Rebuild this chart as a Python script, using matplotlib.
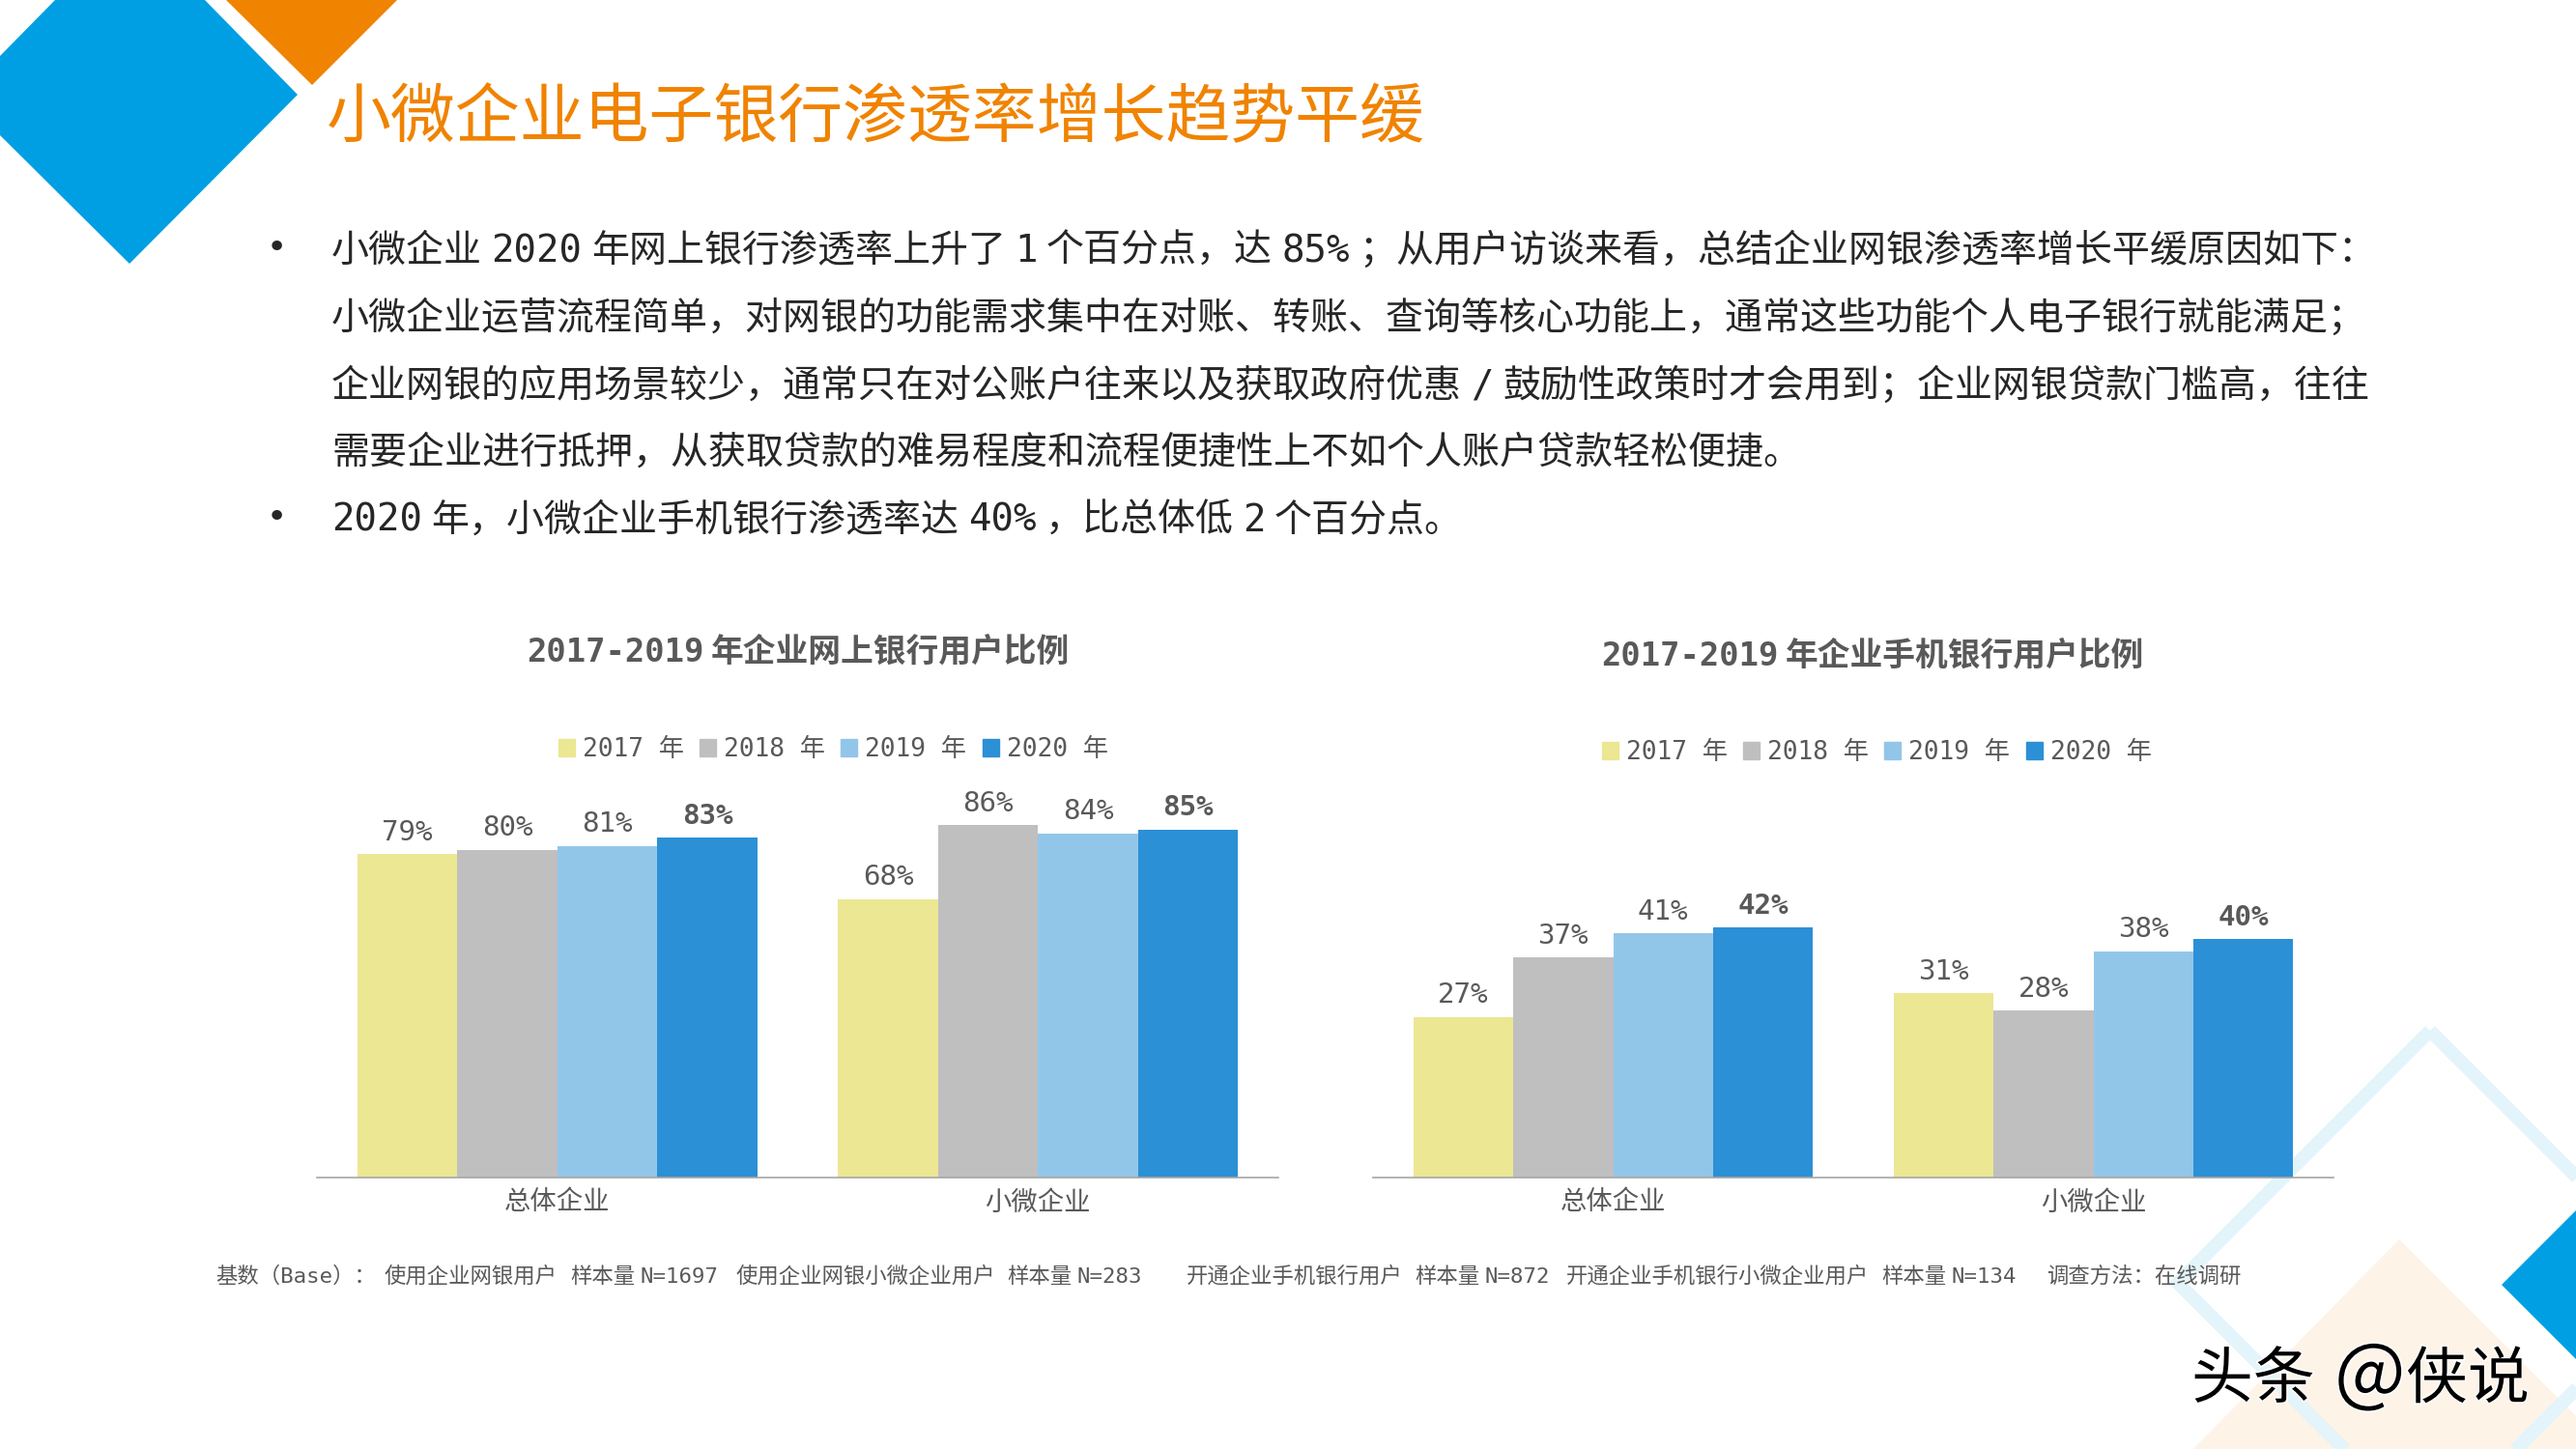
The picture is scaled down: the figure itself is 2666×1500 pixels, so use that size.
"""
Slide: SME e-banking penetration, two grouped bar charts on a decorated page.
"""
import matplotlib
matplotlib.use("Agg")
import matplotlib.pyplot as plt
import matplotlib.patheffects as pe
from matplotlib.patches import Patch, Polygon
import numpy as np

W, H = 2666, 1500
MONO_CJK = ["DejaVu Sans Mono", "Noto Sans CJK SC"]
TEXT_GREY = "#595959"

years = ["2017 年", "2018 年", "2019 年", "2020 年"]
groups = ["总体企业", "小微企业"]
colors = ["#EBE792", "#BFBFBF", "#92C6E9", "#2B90D6"]

online_2017 = [79, 68]
online_2018 = [80, 86]
online_2019 = [81, 84]
online_2020 = [83, 85]

mobile_2017 = [27, 31]
mobile_2018 = [37, 28]
mobile_2019 = [41, 38]
mobile_2020 = [42, 40]

title = "小微企业电子银行渗透率增长趋势平缓"
body_lines = [
    "小微企业 2020 年网上银行渗透率上升了 1 个百分点，达 85% ；从用户访谈来看，总结企业网银渗透率增长平缓原因如下：",
    "小微企业运营流程简单，对网银的功能需求集中在对账、转账、查询等核心功能上，通常这些功能个人电子银行就能满足；",
    "企业网银的应用场景较少，通常只在对公账户往来以及获取政府优惠 / 鼓励性政策时才会用到；企业网银贷款门槛高，往往",
    "需要企业进行抵押，从获取贷款的难易程度和流程便捷性上不如个人账户贷款轻松便捷。",
    "2020 年，小微企业手机银行渗透率达 40% ，比总体低 2 个百分点。",
]
footer_parts = [
    (223, "基数（Base）："),
    (398, "使用企业网银用户"),
    (590, "样本量 N=1697"),
    (762, "使用企业网银小微企业用户"),
    (1042, "样本量 N=283"),
    (1228, "开通企业手机银行用户"),
    (1464, "样本量 N=872"),
    (1621, "开通企业手机银行小微企业用户"),
    (1947, "样本量 N=134"),
    (2118, "调查方法：在线调研"),
]

fig = plt.figure(figsize=(W / 100, H / 100), dpi=100, facecolor="white")

# full page layer in pixel coordinates
page = fig.add_axes([0, 0, 1, 1], zorder=0)
page.set_xlim(0, W)
page.set_ylim(H, 0)
page.axis("off")


def draw_runs(x, y, text, size, color, weight="normal", gap=0.24, center=False):
    # spaces are narrower than the mono font's, so lay the words out one by one
    renderer = fig.canvas.get_renderer()
    artists = []
    cur = x
    for word in text.split(" "):
        t = page.text(cur, y, word, fontsize=size, color=color, weight=weight,
                      family=MONO_CJK, va="baseline", ha="left")
        cur = t.get_window_extent(renderer).x1 + gap * size * 100 / 72
        artists.append(t)
    if center:
        shift = (cur - gap * size * 100 / 72 - x) / 2
        for t in artists:
            px, py = t.get_position()
            t.set_position((px - shift, py))


# decorations
page.add_patch(Polygon([(2483, 1283), (2700, 1500), (2270, 1500)], closed=True, fc="#FDF3E7", ec="none"))
page.add_patch(Polygon([(2515, 1067), (2776, 1328), (2515, 1589), (2254, 1328)], closed=True,
                       fc="none", ec="#E3F4FB", lw=10, joinstyle="miter"))
page.add_patch(Polygon([(57, 0), (212, 0), (308, 98), (134, 273), (0, 140), (0, 58)], closed=True, fc="#009FE3", ec="none"))
page.add_patch(Polygon([(234, 0), (411, 0), (323, 88)], closed=True, fc="#F08300", ec="none"))
page.add_patch(Polygon([(2589, 1330), (2666, 1253), (2666, 1407)], closed=True, fc="#009FE3", ec="none"))

# headline and body
page.text(338, 142, title, fontsize=48.2, color="#F08300", family="Noto Sans CJK SC", va="baseline")
body_baselines = [271, 341, 411, 480, 550]
for line, base in zip(body_lines, body_baselines):
    draw_runs(343, base, line, 28.05, "#262626")
for base in [body_baselines[0], body_baselines[4]]:
    page.text(286, base - 14, "•", fontsize=26, color="#262626", ha="center", va="center", family="DejaVu Sans")

# chart titles
draw_runs(826, 685, "2017-2019 年企业网上银行用户比例", 24.3, TEXT_GREY, weight="bold", center=True)
draw_runs(1938, 689, "2017-2019 年企业手机银行用户比例", 24.3, TEXT_GREY, weight="bold", center=True)

# footer
for fx, part in footer_parts:
    draw_runs(fx, 1328, part, 16.1, TEXT_GREY)

# watermark
halo = [pe.withStroke(linewidth=2.5, foreground="white")]
for wx, part, size in [(2268, "头条", 46), (2416, "@", 56), (2490, "侠说", 46)]:
    page.text(wx, 1447, part, fontsize=size, color="black", family="Noto Sans CJK SC",
              va="baseline", path_effects=halo)


def bar_chart(left, right, base, top, ymax, series, legend_x, legend_y):
    ax = fig.add_axes([left / W, 1 - base / H, (right - left) / W, (base - top) / H], zorder=1)
    ax.patch.set_alpha(0)
    x = np.arange(len(groups))
    width = 0.208
    for i, values in enumerate(series):
        bars = ax.bar(x + (i - 1.5) * width, values, width, color=colors[i], label=years[i])
        labels = [f"{v}%" for v in values]
        ax.bar_label(bars, labels=labels, padding=6, fontsize=21, color=TEXT_GREY, family=MONO_CJK,
                     weight="bold" if i == 3 else "normal")
    ax.set_xlim(-0.5, 1.5)
    ax.set_ylim(0, ymax)
    ax.set_yticks([])
    ax.set_xticks(x)
    ax.set_xticklabels(groups, fontsize=19.7, color=TEXT_GREY, family="Noto Sans CJK SC")
    ax.tick_params(axis="x", length=0, pad=9)
    for side in ["top", "left", "right"]:
        ax.spines[side].set_visible(False)
    ax.spines["bottom"].set_color("#A6A6A6")
    ax.spines["bottom"].set_linewidth(1.2)
    handles = [Patch(color=c, label=y) for c, y in zip(colors, years)]
    ax.legend(handles=handles, ncol=4, frameon=False, loc="center left",
              bbox_to_anchor=(legend_x / W, 1 - legend_y / H), bbox_transform=fig.transFigure,
              prop={"family": MONO_CJK, "size": 18.9}, labelcolor=TEXT_GREY,
              borderpad=0, borderaxespad=0, handlelength=0.65, handleheight=0.7,
              handletextpad=0.3, columnspacing=0.62)
    return ax


bar_chart(328, 1323, 1219, 820, 94.1,
          [online_2017, online_2018, online_2019, online_2020], 578, 776)
bar_chart(1421, 2415, 1219, 870, 56.6,
          [mobile_2017, mobile_2018, mobile_2019, mobile_2020], 1658, 779)

fig.savefig("out.png", dpi=100)
